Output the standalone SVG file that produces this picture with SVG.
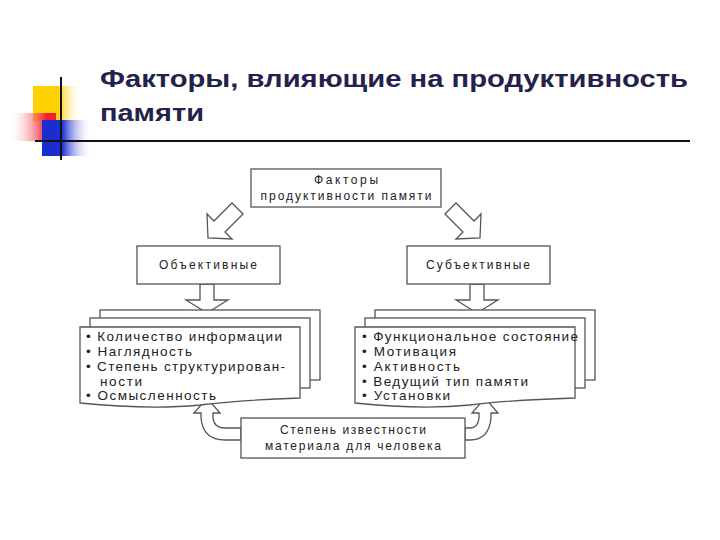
<svg xmlns="http://www.w3.org/2000/svg" width="720" height="540" viewBox="0 0 720 540">
<defs>
<linearGradient id="yg" x1="0" x2="1"><stop offset="0.5" stop-color="#ffd000"/><stop offset="1" stop-color="#fff" stop-opacity="0"/></linearGradient>
<linearGradient id="rg" x1="1" x2="0"><stop offset="0.2" stop-color="#f02030"/><stop offset="1" stop-color="#fff" stop-opacity="0"/></linearGradient>
<linearGradient id="bg" x1="0" x2="1"><stop offset="0.4" stop-color="#1a2ed0"/><stop offset="1" stop-color="#fff" stop-opacity="0"/></linearGradient>
<style>
.b{fill:#fff;stroke:#555;stroke-width:1.3}
.t{font-family:"Liberation Sans",Arial,sans-serif;font-size:12px;fill:#222}
.l{font-family:"Liberation Sans",Arial,sans-serif;font-size:13.5px;fill:#222}
.a{fill:#fff;stroke:#555;stroke-width:1.3;stroke-linejoin:miter}
</style>
</defs>
<rect width="720" height="540" fill="#fff"/>
<g id="logo">
<rect x="33" y="86" width="50" height="36" fill="url(#yg)"/>
<rect x="8" y="113" width="48" height="28" fill="url(#rg)"/>
<rect x="42" y="120" width="50" height="36" fill="url(#bg)"/>
<line x1="61" y1="77" x2="61" y2="160" stroke="#111" stroke-width="2"/>
<line x1="35" y1="141" x2="690" y2="141" stroke="#111" stroke-width="2"/>
</g>
<g id="title" font-family="'Liberation Sans',Arial,sans-serif" font-weight="bold" font-size="23" fill="#22224a">
<text x="100" y="87" textLength="588" lengthAdjust="spacingAndGlyphs">Факторы, влияющие на продуктивность</text>
<text x="100" y="121" textLength="104" lengthAdjust="spacingAndGlyphs">памяти</text>
</g>
<g id="connectors">
<path class="a" d="M232,203 L243,214 L225,232 L232,239 L208,238 L207,214 L214,221 Z"/>
<path class="a" d="M456,203 L445,214 L463,232 L456,239 L480,238 L481,214 L474,221 Z"/>
<path class="a" d="M200,284 L214,284 L214,300 L228,300 L207,313 L186,300 L200,300 Z"/>
<path class="a" d="M470,284 L484,284 L484,300 L498,300 L477,313 L456,300 L470,300 Z"/>
<path class="a" d="M241,428 L225,428 Q214,428 213,418 L213,413 L220,413 L207,398 L194,413 L201,413 L201,418 Q203,440 225,440 L241,440 Z"/>
<path class="a" d="M465,428 L470,428 Q478,428 479,418 L479,413 L472,413 L485,398 L498,413 L491,413 L491,418 Q489,440 470,440 L465,440 Z"/>
</g>
<g id="top"><rect class="b" x="251" y="169" width="190" height="38"/>
<text class="t" x="346" y="184" text-anchor="middle" textLength="64">Факторы</text>
<text class="t" x="346" y="200" text-anchor="middle" textLength="171">продуктивности памяти</text></g>
<g id="obj"><rect class="b" x="137" y="246" width="143" height="38"/>
<text class="t" x="208" y="269" text-anchor="middle" textLength="98">Объективные</text></g>
<g id="subj"><rect class="b" x="407" y="246" width="143" height="38"/>
<text class="t" x="478" y="269" text-anchor="middle" textLength="104">Субъективные</text></g>
<g id="objlist">
<rect class="b" x="100" y="310" width="220" height="70"/>
<rect class="b" x="90" y="318" width="220" height="70"/>
<path class="b" d="M80,327 L300,327 L300,398 Q240,400 200,405 Q150,410 80,403 Z"/>
<text class="l" x="86" y="341" textLength="196">• Количество информации</text>
<text class="l" x="86" y="356" textLength="106">• Наглядность</text>
<text class="l" x="86" y="371" textLength="199">• Степень структурирован-</text>
<text class="l" x="100" y="386" textLength="42">ности</text>
<text class="l" x="86" y="400" textLength="130">• Осмысленность</text>
</g>
<g id="subjlist">
<rect class="b" x="375" y="310" width="220" height="70"/>
<rect class="b" x="365" y="318" width="220" height="70"/>
<path class="b" d="M355,327 L575,327 L575,398 Q510,400 470,405 Q420,410 355,403 Z"/>
<text class="l" x="362" y="341" textLength="216">• Функциональное состояние</text>
<text class="l" x="362" y="356" textLength="94">• Мотивация</text>
<text class="l" x="362" y="371" textLength="98">• Активность</text>
<text class="l" x="362" y="386" textLength="166">• Ведущий тип памяти</text>
<text class="l" x="362" y="400" textLength="88">• Установки</text>
</g>
<g id="bottom"><rect class="b" x="241" y="418" width="224" height="40"/>
<text class="t" x="353" y="434" text-anchor="middle" textLength="146">Степень известности</text>
<text class="t" x="353" y="450" text-anchor="middle" textLength="176">материала для человека</text></g>
</svg>
